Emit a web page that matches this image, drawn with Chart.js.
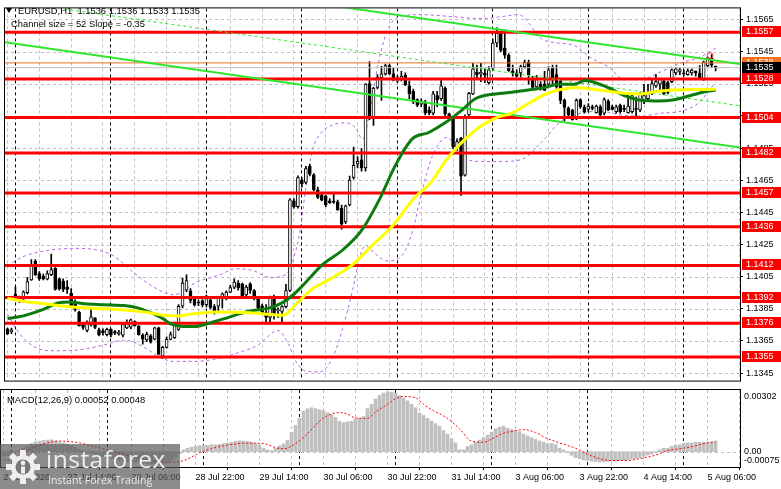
<!DOCTYPE html>
<html>
<head>
<meta charset="utf-8">
<title>EURUSD H1</title>
<script src="https://cdn.jsdelivr.net/npm/chart.js@4.4.1/dist/chart.umd.min.js"></script>
<style>
  html, body { margin: 0; padding: 0; background: #fff; }
  #wrap { position: relative; width: 781px; height: 489px; overflow: hidden; }
  #priceChart { position: absolute; left: 0; top: 0; }
  #macdChart { position: absolute; left: 0; top: 389px; }
  #logo { position: absolute; left: 0; top: 444px; width: 180px; height: 45px; background: rgba(87, 87, 87, 0.69); }
  #logo .brand { position: absolute; left: 46px; top: -2px; font: 24.5px "Open Sans", sans-serif; color: #eeeeee; letter-spacing: 0.5px; }
  #logo .tag { position: absolute; left: 48px; top: 29px; font: 10.5px "Open Sans", sans-serif; color: #eeeeee; }
</style>
</head>
<body>
<div id="wrap">
  <canvas id="priceChart" width="781" height="389"></canvas>
  <canvas id="macdChart" width="781" height="100"></canvas>
  <div id="logo">
    <svg width="38" height="38" viewBox="0 0 38 38" style="position:absolute;left:4px;top:4px">
      <g fill="#eeeeee" transform="translate(19 19)">
        <circle r="12"></circle>
        <rect x="-3" y="-17" width="6" height="7"></rect>
        <rect x="-3" y="-17" width="6" height="7" transform="rotate(45)"></rect>
        <rect x="-3" y="-17" width="6" height="7" transform="rotate(90)"></rect>
        <rect x="-3" y="-17" width="6" height="7" transform="rotate(135)"></rect>
        <rect x="-3" y="-17" width="6" height="7" transform="rotate(180)"></rect>
        <rect x="-3" y="-17" width="6" height="7" transform="rotate(225)"></rect>
        <rect x="-3" y="-17" width="6" height="7" transform="rotate(270)"></rect>
        <rect x="-3" y="-17" width="6" height="7" transform="rotate(315)"></rect>
      </g>
      <circle cx="19" cy="19" r="7.5" fill="#767676"></circle>
      <circle cx="19" cy="15" r="2.4" fill="#eeeeee"></circle>
      <rect x="17" y="18.5" width="4" height="7" fill="#eeeeee"></rect>
    </svg>
    <div class="brand">instaforex</div>
    <div class="tag">Instant Forex Trading</div>
  </div>
</div>
<script>
Chart.defaults.font.family = "'Liberation Sans', Arial, sans-serif";
Chart.defaults.font.size = 9;
Chart.defaults.color = "#000";
Chart.defaults.animation = false;

// --------- Data ----------
const symbol = "EURUSD";
const period = "H1";

// hourly candles, oldest first
const opens = [
  1.13726,1.13706,1.13942,1.13920,1.13910,1.13950,1.14030,1.14146,1.14070,1.14054,
  1.14034,1.14062,1.14102,1.14036,1.14022,1.13986,1.13946,1.13890,1.13830,1.13750,
  1.13716,1.13750,1.13794,1.13720,1.13714,1.13690,1.13722,1.13708,1.13694,1.13686,
  1.13732,1.13736,1.13770,1.13742,1.13686,1.13656,1.13682,1.13662,1.13732,1.13556,
  1.13610,1.13660,1.13670,1.13722,1.13866,1.13966,1.13962,1.13916,1.13890,1.13902,
  1.13876,1.13906,1.13864,1.13866,1.13916,1.13916,1.13954,1.13984,1.14010,1.14006,
  1.13936,1.14006,1.13964,1.13916,1.13868,1.13826,1.13796,1.13924,1.13838,1.13834,
  1.13864,1.13964,1.14522,1.14486,1.14651,1.14637,1.14737,1.14683,1.14591,1.14556,
  1.14550,1.14522,1.14518,1.14516,1.14476,1.14390,1.14496,1.14667,1.14751,1.14777,
  1.14727,1.15252,1.15037,1.15228,1.15288,1.15312,1.15364,1.15312,1.15268,1.15278,
  1.15304,1.15238,1.15203,1.15151,1.15123,1.15137,1.15087,1.15067,1.15177,1.15157,
  1.15223,1.15063,1.15031,1.14851,1.14911,1.14682,1.15057,1.15187,1.15323,1.15311,
  1.15317,1.15257,1.15347,1.15504,1.15564,1.15472,1.15428,1.15327,1.15317,1.15317,
  1.15357,1.15383,1.15271,1.15231,1.15247,1.15247,1.15247,1.15347,1.15307,1.15267,
  1.15147,1.15097,1.15087,1.15037,1.15151,1.15103,1.15091,1.15107,1.15071,1.15107,
  1.15067,1.15143,1.15107,1.15077,1.15117,1.15097,1.15071,1.15077,1.15097,1.15087,
  1.15147,1.15157,1.15191,1.15237,1.15247,1.15267,1.15257,1.15263,1.15317,1.15327,
  1.15313,1.15307,1.15317,1.15327,1.15317,1.15277,1.15363,1.15411,1.15360
];
const highs = [
  1.13730,1.13730,1.13986,1.13930,1.13962,1.14046,1.14156,1.14156,1.14082,1.14066,
  1.14086,1.14190,1.14106,1.14042,1.14036,1.14026,1.13976,1.13906,1.13836,1.13766,
  1.13776,1.13856,1.13796,1.13730,1.13726,1.13730,1.13726,1.13716,1.13716,1.13756,
  1.13782,1.13786,1.13776,1.13746,1.13696,1.13706,1.13690,1.13736,1.13736,1.13616,
  1.13676,1.13706,1.13756,1.13876,1.14042,1.14062,1.13976,1.13926,1.13906,1.13908,
  1.13936,1.13916,1.13876,1.13922,1.13950,1.13962,1.13996,1.14036,1.14026,1.14010,
  1.13996,1.14014,1.13970,1.13926,1.13880,1.13876,1.13930,1.13936,1.13856,1.13870,
  1.14002,1.14536,1.14536,1.14677,1.14667,1.14737,1.14751,1.14691,1.14607,1.14566,
  1.14556,1.14536,1.14577,1.14526,1.14496,1.14496,1.14676,1.14857,1.14797,1.14847,
  1.15252,1.15388,1.15228,1.15308,1.15358,1.15372,1.15372,1.15348,1.15300,1.15328,
  1.15318,1.15268,1.15217,1.15157,1.15157,1.15147,1.15107,1.15203,1.15203,1.15277,
  1.15231,1.15067,1.15047,1.14907,1.14917,1.15057,1.15197,1.15377,1.15367,1.15377,
  1.15343,1.15357,1.15528,1.15598,1.15578,1.15584,1.15438,1.15367,1.15337,1.15367,
  1.15398,1.15398,1.15297,1.15303,1.15263,1.15327,1.15357,1.15367,1.15367,1.15277,
  1.15157,1.15107,1.15091,1.15157,1.15157,1.15117,1.15127,1.15117,1.15117,1.15117,
  1.15163,1.15151,1.15117,1.15117,1.15123,1.15117,1.15187,1.15191,1.15167,1.15197,
  1.15247,1.15247,1.15277,1.15307,1.15283,1.15271,1.15267,1.15343,1.15351,1.15347,
  1.15337,1.15343,1.15343,1.15331,1.15363,1.15391,1.15417,1.15431,1.15360
];
const lows = [
  1.13690,1.13696,1.13902,1.13890,1.13890,1.13942,1.14026,1.14056,1.14026,1.14030,
  1.14030,1.14056,1.13966,1.13966,1.13956,1.13946,1.13862,1.13836,1.13742,1.13722,
  1.13706,1.13742,1.13726,1.13682,1.13686,1.13682,1.13676,1.13690,1.13686,1.13676,
  1.13726,1.13726,1.13742,1.13686,1.13630,1.13646,1.13636,1.13656,1.13566,1.13542,
  1.13606,1.13656,1.13666,1.13716,1.13856,1.13956,1.13886,1.13866,1.13870,1.13862,
  1.13862,1.13850,1.13816,1.13826,1.13856,1.13906,1.13950,1.13976,1.13966,1.13916,
  1.13916,1.13946,1.13906,1.13850,1.13816,1.13756,1.13756,1.13786,1.13796,1.13766,
  1.13856,1.13956,1.14476,1.14476,1.14607,1.14627,1.14677,1.14583,1.14536,1.14522,
  1.14486,1.14506,1.14506,1.14462,1.14346,1.14380,1.14490,1.14657,1.14727,1.14707,
  1.14707,1.15027,1.14991,1.15218,1.15147,1.15304,1.15308,1.15268,1.15258,1.15268,
  1.15238,1.15157,1.15127,1.15107,1.15107,1.15057,1.15057,1.15057,1.15107,1.15147,
  1.15047,1.15023,1.14847,1.14837,1.14556,1.14676,1.15047,1.15183,1.15277,1.15263,
  1.15257,1.15247,1.15337,1.15480,1.15448,1.15408,1.15327,1.15297,1.15291,1.15291,
  1.15347,1.15247,1.15223,1.15227,1.15211,1.15207,1.15237,1.15237,1.15223,1.15127,
  1.15017,1.15047,1.15023,1.15027,1.15097,1.15067,1.15077,1.15087,1.15067,1.15047,
  1.15057,1.15083,1.15087,1.15067,1.15067,1.15077,1.15067,1.15067,1.15047,1.15077,
  1.15127,1.15147,1.15183,1.15227,1.15207,1.15183,1.15187,1.15257,1.15307,1.15307,
  1.15297,1.15303,1.15303,1.15297,1.15283,1.15271,1.15357,1.15351,1.15330
];
const closes = [
  1.13696,1.13720,1.13914,1.13902,1.13956,1.14020,1.14126,1.14062,1.14036,1.14036,
  1.14070,1.14094,1.13970,1.13976,1.13970,1.13970,1.13870,1.13846,1.13746,1.13734,
  1.13766,1.13800,1.13734,1.13690,1.13700,1.13722,1.13686,1.13698,1.13706,1.13752,
  1.13766,1.13782,1.13746,1.13690,1.13662,1.13692,1.13642,1.13732,1.13566,1.13610,
  1.13660,1.13690,1.13750,1.13866,1.14010,1.14026,1.13902,1.13876,1.13886,1.13874,
  1.13914,1.13858,1.13826,1.13916,1.13944,1.13954,1.13982,1.14016,1.13982,1.13926,
  1.13986,1.13964,1.13916,1.13856,1.13826,1.13796,1.13924,1.13806,1.13846,1.13864,
  1.13964,1.14528,1.14486,1.14667,1.14627,1.14723,1.14687,1.14591,1.14543,1.14526,
  1.14496,1.14510,1.14514,1.14466,1.14376,1.14490,1.14651,1.14743,1.14767,1.14727,
  1.15248,1.15037,1.15224,1.15292,1.15312,1.15364,1.15312,1.15278,1.15268,1.15298,
  1.15244,1.15188,1.15137,1.15117,1.15143,1.15067,1.15067,1.15187,1.15151,1.15237,
  1.15063,1.15031,1.14857,1.14891,1.14676,1.15047,1.15191,1.15343,1.15307,1.15321,
  1.15303,1.15337,1.15504,1.15564,1.15458,1.15428,1.15331,1.15317,1.15297,1.15357,
  1.15383,1.15307,1.15227,1.15277,1.15217,1.15209,1.15337,1.15287,1.15231,1.15147,
  1.15103,1.15057,1.15027,1.15147,1.15107,1.15077,1.15111,1.15097,1.15111,1.15057,
  1.15151,1.15087,1.15091,1.15107,1.15077,1.15091,1.15111,1.15177,1.15091,1.15187,
  1.15177,1.15197,1.15251,1.15263,1.15277,1.15187,1.15197,1.15337,1.15343,1.15337,
  1.15311,1.15331,1.15335,1.15317,1.15287,1.15387,1.15411,1.15367,1.15350
];

// time axis (bar index -> label)
const timeTickIdx = [0, 16, 32, 48, 64, 80, 96, 112, 128, 144, 160, 176];
const timeLabels = ["24 Jul 2026", "27 Jul 14:00", "28 Jul 06:00", "28 Jul 22:00", "29 Jul 14:00", "30 Jul 06:00",
  "30 Jul 22:00", "31 Jul 14:00", "3 Aug 06:00", "3 Aug 22:00", "4 Aug 14:00", "5 Aug 06:00"];
const daySeparators = [2, 26, 50, 74, 98, 122, 146, 170];

// price axis
const priceTicks = [1.1345, 1.1365, 1.1385, 1.1405, 1.1425, 1.1445, 1.1465, 1.1485, 1.1505, 1.1525, 1.1545, 1.1565];
const levels = [1.1557, 1.1528, 1.1504, 1.1482, 1.1457, 1.1436, 1.1412, 1.1392, 1.1376, 1.1355];
const askPrice = 1.1538;
const bidPrice = 1.1535;

// moving averages [bar index, price]
const maGreen = [[0,1.13790],[4,1.13806],[9,1.13846],[12.7,1.13886],[16,1.13892],[19.3,1.13882],[24.3,1.13876],
  [29.3,1.13870],[32.7,1.13856],[36,1.13826],[39.3,1.13786],[41,1.13756],[43.5,1.13742],[46.8,1.13740],
  [52.6,1.13775],[60.9,1.13836],[65.9,1.13856],[69.25,1.13890],[71.75,1.13936],[74.25,1.13996],[79.25,1.14126],
  [84.25,1.14216],[89.25,1.14346],[93.4,1.14526],[97.6,1.14747],[101.75,1.14907],[105.9,1.14947],[110,1.15007],
  [114.25,1.15087],[117.6,1.15157],[122.6,1.15187],[126.75,1.15197],[130.9,1.15211],[135,1.15227],[138.4,1.15247],
  [142.6,1.15247],[145.1,1.15271],[150.9,1.15227],[155,1.15177],[159.25,1.15147],[163.4,1.15143],[167.6,1.15151],
  [171.75,1.15177],[175.9,1.15203],[178,1.15211]];
const maYellow = [[0,1.13916],[4.3,1.13896],[9.3,1.13882],[14.3,1.13866],[19.3,1.13856],[24.3,1.13850],[29.3,1.13842],
  [34.3,1.13830],[39.3,1.13810],[42.7,1.13806],[46.8,1.13820],[52.6,1.13830],[60.9,1.13826],[65.9,1.13816],
  [69.25,1.13810],[72.6,1.13880],[75.9,1.13960],[81.75,1.14045],[86.75,1.14126],[91.75,1.14246],[96.75,1.14366],
  [101.75,1.14526],[106.75,1.14646],[110,1.14767],[114.25,1.14887],[118.4,1.14977],[122.6,1.15037],[126.75,1.15067],
  [130.9,1.15127],[135,1.15183],[138.4,1.15211],[142.6,1.15227],[146.75,1.15217],[150.9,1.15203],[155,1.15191],
  [159.25,1.15187],[163.4,1.15203],[167.6,1.15211],[171.75,1.15215],[175.9,1.15215],[178,1.15217]];

// bollinger envelope [bar index, price]
const bandUpper = [[0,1.14118],[4.25,1.14178],[10.5,1.14214],[16.75,1.14226],[23,1.14214],[26.75,1.14178],[31.75,1.14075],
  [36.75,1.13985],[41.75,1.13937],[47.5,1.14015],[53.5,1.14063],[57.5,1.14100],[61.75,1.14088],[66,1.14045],[70,1.14063],
  [71.75,1.14154],[73.5,1.14328],[75,1.14604],[76.75,1.14845],[78.5,1.14935],[81.75,1.14995],[85,1.15007],[87.5,1.14977],
  [89.25,1.14905],[91,1.15067],[92.5,1.15289],[94.25,1.15488],[96,1.15608],[98.5,1.15668],[104.25,1.15680],[111.75,1.15668],
  [119.25,1.15656],[124.25,1.15668],[128.5,1.15680],[134.25,1.15530],[137.5,1.15506],[142.5,1.15488],[146.75,1.15410],
  [151,1.15356],[155,1.15278],[159.25,1.15278],[164.25,1.15325],[169.25,1.15380],[173.5,1.15410],[178,1.15470]];
const bandLower = [[0,1.13817],[3,1.13697],[6.75,1.13613],[11.75,1.13589],[18,1.13595],[24.25,1.13625],[29.25,1.13655],
  [34.25,1.13613],[38,1.13553],[41.75,1.13523],[46.75,1.13523],[51.75,1.13535],[58,1.13577],[63,1.13625],[68,1.13715],
  [70.5,1.13637],[72.5,1.13523],[75,1.13463],[78.5,1.13457],[81.75,1.13547],[84.25,1.13727],[86.75,1.13967],[88.5,1.14166],
  [90,1.14244],[92.25,1.14196],[95.5,1.14148],[99.25,1.14184],[101.75,1.14328],[104.25,1.14586],[106.75,1.14797],
  [110.5,1.14917],[113,1.14839],[115.5,1.14779],[119.25,1.14767],[124.25,1.14767],[129.25,1.14779],[134.25,1.14887],
  [139.25,1.15019],[144.25,1.15067],[149.25,1.15079],[154.25,1.15055],[159.25,1.15049],[164.25,1.15067],[169.25,1.15079],
  [173.5,1.15127],[178,1.15259]];

// regression channel: lower edge endpoints, width (pips) and slope (pips per bar)
const channelLow = [[-0.625, 1.15508], [184.125, 1.14853]];
const channelSize = 52;
const channelSlope = -0.35;

const marker = [[176.6, 1.15425]];

// MACD(12,26,9), units of 0.00001
const macdHist = [
  -20,-22,-10,0,8,18,28,40,48,52,
  55,57,58,53,48,43,36,30,22,12,
  4,-3,-8,-14,-20,-24,-28,-32,-40,-44,
  -46,-48,-50,-52,-54,-56,-58,-59,-58,-62,
  -60,-55,-42,-28,-10,9,17,22,26,29,
  33,31,34,33,36,40,43,46,50,53,
  52,50,46,40,33,17,9,5,17,29,
  38,55,94,129,163,198,210,215,211,206,
  201,191,180,167,149,143,146,149,160,163,
  172,211,232,258,275,287,292,292,287,275,
  263,249,232,215,189,177,163,150,137,125,
  103,86,64,43,9,9,26,34,46,57,
  69,81,94,112,120,125,115,108,103,98,
  86,77,69,60,52,46,40,40,34,17,
  9,-5,-17,-29,-34,-40,-43,-46,-48,-50,
  -50,-48,-46,-46,-43,-43,-40,-36,-33,-29,
  -22,-17,-12,-5,9,17,17,26,31,34,
  40,43,43,46,46,46,46,48,52
];
const macdSignal = [[0,-40],[1,-43],[4,-17],[8,26],[11,43],[14,52],[18,46],[21,34],[26,9],[33,-26],[39,-50],
  [43,-52],[46,-36],[49,-5],[52,15],[56,32],[61,42],[65,40],[68,20],[70,14],[72,28],[75,69],[78,129],[80,165],
  [82,184],[84,192],[86,184],[88,165],[91,163],[93,195],[96,232],[98,260],[100,270],[103,264],[105,232],[107,206],
  [111,163],[114,112],[117,52],[120,46],[122,62],[125,90],[128,103],[130,108],[133,94],[136,64],[139,43],[143,17],
  [146,-12],[149,-34],[152,-43],[156,-43],[159,-34],[163,-17],[166,5],[170,17],[173,29],[176,43],[178,48]];
const macdTicks = [0.00302, 0, -0.00075];

// --------- View window ----------
const xMin = -0.625, xMax = 184.125;
const priceMin = 1.134035, priceMax = 1.15719;

const pts = (pairs) => pairs.map(([k, v]) => ({ x: k, y: v }));
const hline = (v) => [{ x: xMin, y: v }, { x: xMax, y: v }];
const fmt4 = (v) => v.toFixed(4);

// --------- Helpers for the terminal look ----------
function drawGrid(chart, hValues) {
  const { ctx, chartArea: a, scales } = chart;
  const x = scales.x, y = scales.y;
  ctx.save();
  ctx.beginPath();
  ctx.rect(a.left, a.top, a.right - a.left, a.bottom - a.top);
  ctx.clip();
  ctx.lineWidth = 1;
  ctx.setLineDash([3, 3]);
  ctx.strokeStyle = "#c0c0c0";
  ctx.beginPath();
  for (let k = 0; k <= xMax; k += 8) {
    if (daySeparators.includes(k)) continue;
    const px = Math.floor(x.getPixelForValue(k)) + 0.5;
    ctx.moveTo(px, a.top);
    ctx.lineTo(px, a.bottom);
  }
  hValues.forEach((v) => {
    const py = Math.round(y.getPixelForValue(v)) + 0.5;
    ctx.moveTo(a.left, py);
    ctx.lineTo(a.right, py);
  });
  ctx.stroke();
  ctx.strokeStyle = "#000";
  ctx.beginPath();
  daySeparators.forEach((k) => {
    const px = Math.floor(x.getPixelForValue(k)) + 0.5;
    ctx.moveTo(px, a.top);
    ctx.lineTo(px, a.bottom);
  });
  ctx.stroke();
  ctx.restore();
}

function drawFrame(chart) {
  const { ctx, chartArea: a } = chart;
  ctx.save();
  ctx.setLineDash([]);
  ctx.strokeStyle = "#000";
  ctx.lineWidth = 1;
  ctx.strokeRect(a.left - 0.5, a.top - 0.5, a.right - a.left + 1, a.bottom - a.top + 1);
  ctx.restore();
}

function tagBox(chart, value, fill) {
  const { ctx, scales } = chart;
  const yc = Math.round(scales.y.getPixelForValue(value)) - 1;
  const left = scales.y.left + 2;
  ctx.fillStyle = fill;
  ctx.fillRect(left, yc - 5, chart.width - left, 11);
  ctx.fillStyle = "#fff";
  ctx.font = "9px 'Liberation Sans', Arial, sans-serif";
  ctx.textAlign = "left";
  ctx.textBaseline = "middle";
  ctx.fillText(fmt4(value), scales.y.left + 6, yc + 0.5);
}

const priceDecor = {
  id: "priceDecor",
  beforeDatasetsDraw(chart) {
    drawGrid(chart, priceTicks);
  },
  afterDraw(chart) {
    const { ctx } = chart;
    drawFrame(chart);
    tagBox(chart, askPrice, "#f07020");
    tagBox(chart, bidPrice, "#000");
    levels.forEach((v) => tagBox(chart, v, "#ff0000"));

    const last = opens.length - 1;
    ctx.save();
    ctx.fillStyle = "#000";
    ctx.beginPath();
    ctx.moveTo(6, 8); ctx.lineTo(12, 8); ctx.lineTo(9, 13);
    ctx.closePath();
    ctx.fill();
    ctx.font = "9.4px 'Liberation Sans', Arial, sans-serif";
    ctx.textAlign = "left";
    ctx.textBaseline = "middle";
    ctx.fillText(symbol + "," + period + "  " + fmt4(opens[last]) + " " + fmt4(highs[last]) + " " +
      fmt4(lows[last]) + " " + fmt4(closes[last]), 18, 11);
    ctx.fillText("Channel size = " + channelSize + " Slope = " + channelSlope.toFixed(2), 11, 24.5);
    ctx.restore();
  }
};

const macdDecor = {
  id: "macdDecor",
  beforeDatasetsDraw(chart) {
    drawGrid(chart, [0]);
  },
  afterDraw(chart) {
    const { ctx, chartArea: a, scales } = chart;
    drawFrame(chart);
    const last = macdHist.length - 1;
    ctx.save();
    ctx.fillStyle = "#000";
    ctx.font = "9.4px 'Liberation Sans', Arial, sans-serif";
    ctx.textAlign = "left";
    ctx.textBaseline = "middle";
    ctx.fillText("MACD(12,26,9) " + (macdHist[last] / 1e5).toFixed(5) + " " +
      (macdSignal[macdSignal.length - 1][1] / 1e5).toFixed(5), 7, 11);
    ctx.font = "9px 'Liberation Sans', Arial, sans-serif";
    macdTicks.forEach((v) => {
      let py = scales.y.getPixelForValue(v);
      py = Math.min(Math.max(py, a.top + 7), a.bottom - 6.5);
      ctx.fillText(v === 0 ? "0.00" : v.toFixed(5), scales.y.left + 4, py);
    });
    ctx.restore();
  }
};

// --------- Price chart ----------
const wickData = highs.map((h, k) => ({ x: k, y: [lows[k], h] }));
const bodyData = opens.map((o, k) => ({ x: k, y: [Math.min(o, closes[k]), Math.max(o, closes[k])] }));
const bodyColors = opens.map((o, k) => (closes[k] >= o ? "#ffffff" : "#000000"));

const lineStyle = { type: "line", pointRadius: 0, fill: false, cubicInterpolationMode: "monotone" };

const priceChart = new Chart(document.getElementById("priceChart"), {
  type: "bar",
  data: {
    datasets: [
      { ...lineStyle, label: "BB upper", data: pts(bandUpper), borderColor: "#b463e6", borderWidth: 1, borderDash: [3, 3], order: 90 },
      { ...lineStyle, label: "BB lower", data: pts(bandLower), borderColor: "#b463e6", borderWidth: 1, borderDash: [3, 3], order: 90 },
      { label: "wicks", data: wickData, backgroundColor: "#000", barThickness: 1, grouped: false, order: 80 },
      { label: "bodies", data: bodyData, backgroundColor: bodyColors, borderColor: "#000", borderWidth: 1,
        borderSkipped: false, barThickness: 3, minBarLength: 1, grouped: false, order: 70 },
      { ...lineStyle, label: "bid", data: hline(bidPrice), borderColor: "#c0c0c0", borderWidth: 1, order: 65 },
      { ...lineStyle, label: "ask", data: hline(askPrice), borderColor: "#f07020", borderWidth: 1, order: 64 },
      ...levels.map((v) => ({ ...lineStyle, label: "level " + v, data: hline(v), borderColor: "#ff0000", borderWidth: 3, order: 60 })),
      { ...lineStyle, label: "channel low", data: pts(channelLow), borderColor: "#2ee82e", borderWidth: 2, order: 50 },
      { ...lineStyle, label: "channel mid", data: channelLow.map(([k, v]) => ({ x: k, y: v + channelSize / 2e4 })),
        borderColor: "#2ee82e", borderWidth: 1, borderDash: [3, 3], order: 50 },
      { ...lineStyle, label: "channel high", data: channelLow.map(([k, v]) => ({ x: k, y: v + channelSize / 1e4 })),
        borderColor: "#2ee82e", borderWidth: 2, order: 50 },
      { ...lineStyle, label: "MA green", data: pts(maGreen), borderColor: "#0d7a0d", borderWidth: 3, order: 30 },
      { ...lineStyle, label: "MA yellow", data: pts(maYellow), borderColor: "#ffff00", borderWidth: 3, order: 20 },
      { type: "line", label: "marker", data: pts(marker), showLine: false, pointRadius: 3, pointBorderWidth: 1,
        pointBorderColor: "#ff3030", pointBackgroundColor: "rgba(0,0,0,0)", order: 10 }
    ]
  },
  options: {
    responsive: false,
    animation: false,
    events: [],
    layout: { padding: { left: 1, top: 1, right: 0, bottom: 2 } },
    plugins: { legend: { display: false }, tooltip: { enabled: false } },
    scales: {
      x: { type: "linear", min: xMin, max: xMax, offset: false, display: false },
      y: {
        position: "right",
        min: priceMin,
        max: priceMax,
        afterFit: (s) => { s.width = 41; },
        afterBuildTicks: (s) => { s.ticks = priceTicks.map((v) => ({ value: v })); },
        ticks: { callback: (v) => fmt4(v), color: "#000", padding: 3, font: { size: 9 } },
        grid: { drawOnChartArea: false, drawTicks: true, tickLength: 3, color: "#000" },
        border: { display: false }
      }
    }
  },
  plugins: [priceDecor]
});

// --------- MACD chart ----------
const macdChart = new Chart(document.getElementById("macdChart"), {
  type: "bar",
  data: {
    datasets: [
      { label: "MACD", data: macdHist.map((v, k) => ({ x: k, y: v / 1e5 })), backgroundColor: "#c0c0c0",
        barThickness: 3, grouped: false, order: 20 },
      { ...lineStyle, label: "Signal", data: macdSignal.map(([k, v]) => ({ x: k, y: v / 1e5 })),
        borderColor: "#ff0000", borderWidth: 1, borderDash: [2, 2], order: 10 }
    ]
  },
  options: {
    responsive: false,
    animation: false,
    events: [],
    layout: { padding: { left: 1, top: 1, right: 0, bottom: 0 } },
    plugins: { legend: { display: false }, tooltip: { enabled: false } },
    scales: {
      x: {
        type: "linear", min: xMin, max: xMax, offset: false,
        afterFit: (s) => { s.height = 22; },
        afterBuildTicks: (s) => { s.ticks = timeTickIdx.map((v) => ({ value: v })); },
        ticks: { callback: (v, i) => timeLabels[i], align: "start", maxRotation: 0, minRotation: 0,
          autoSkip: false, color: "#000", padding: 2, font: { size: 9 } },
        grid: { drawOnChartArea: false, drawTicks: true, tickLength: 3, color: "#000" },
        border: { display: false }
      },
      y: {
        position: "right", min: -0.00075, max: 0.00302,
        afterFit: (s) => { s.width = 41; },
        ticks: { display: false },
        grid: { display: false },
        border: { display: false }
      }
    }
  },
  plugins: [macdDecor]
});
</script>
</body>
</html>
